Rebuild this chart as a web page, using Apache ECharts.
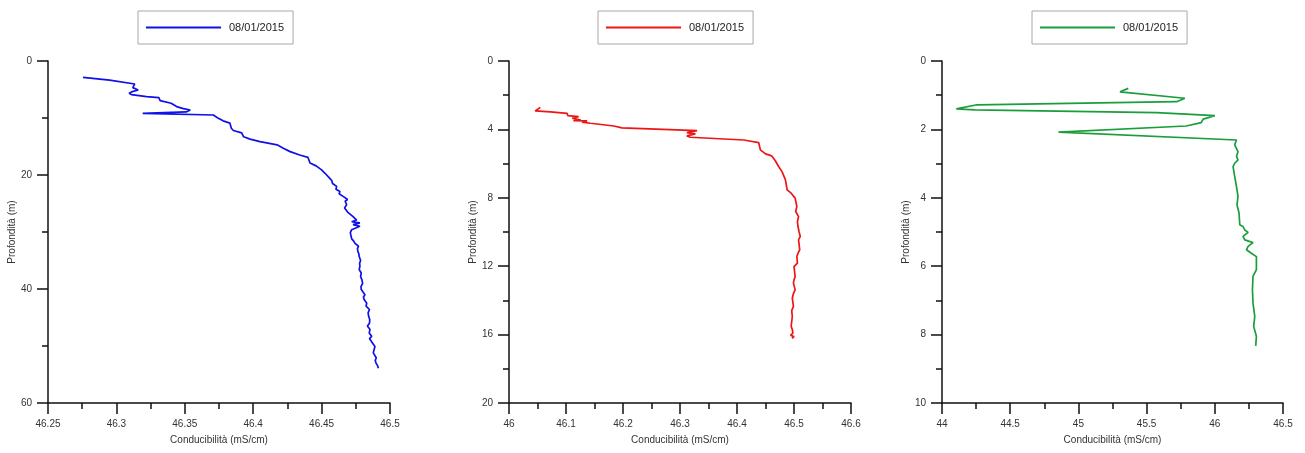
<!DOCTYPE html>
<html>
<head>
<meta charset="utf-8">
<script src="https://cdn.jsdelivr.net/npm/echarts@6/dist/echarts.min.js"></script>
<style>
html,body{margin:0;padding:0;background:#fff;}
#chart{width:1305px;height:453px;}
</style>
</head>
<body>
<div id="chart"></div>
<script>
// Panel 1 (blue)
var cond1 = [46.2756,46.2950,46.3134,46.3146,46.3120,46.3159,46.3117,46.3093,46.3110,46.3220,46.3310,46.3320,46.3400,46.3440,46.3490,46.3540,46.3510,46.3192,46.3709,46.3745,46.3780,46.3830,46.3840,46.3855,46.3916,46.3930,46.3977,46.4050,46.4175,46.4220,46.4270,46.4340,46.4400,46.4415,46.4460,46.4500,46.4525,46.4560,46.4575,46.4585,46.4580,46.4610,46.4605,46.4634,46.4628,46.4660,46.4690,46.4672,46.4670,46.4683,46.4688,46.4668,46.4670,46.4690,46.4695,46.4730,46.4756,46.4720,46.4780,46.4730,46.4780,46.4720,46.4710,46.4722,46.4716,46.4720,46.4735,46.4744,46.4770,46.4762,46.4765,46.4772,46.4775,46.4785,46.4778,46.4780,46.4772,46.4775,46.4790,46.4783,46.4785,46.4795,46.4800,46.4788,46.4790,46.4817,46.4806,46.4810,46.4830,46.4825,46.4850,46.4840,46.4844,46.4852,46.4850,46.4835,46.4854,46.4848,46.4866,46.4850,46.4873,46.4868,46.4890,46.4883,46.4878,46.4900,46.4892,46.4898,46.4908,46.4915];
var depth1 = [2.86,3.35,4.03,4.38,4.67,5.08,5.37,5.67,5.90,6.25,6.43,6.95,7.42,8.00,8.35,8.59,8.94,9.18,9.47,10.06,10.50,10.90,11.80,12.20,12.60,13.30,13.70,14.15,14.70,15.30,15.90,16.50,16.90,17.90,18.40,19.10,19.70,20.60,21.00,21.10,21.50,22.00,22.50,22.90,23.30,23.80,24.30,24.60,24.90,25.20,25.50,25.80,26.10,26.50,26.80,27.30,27.90,28.20,28.40,28.70,29.00,29.60,30.10,30.40,30.80,31.20,31.60,32.00,32.50,32.90,33.40,33.80,34.30,35.00,35.50,36.00,36.30,36.60,37.20,37.50,37.80,38.40,39.00,39.60,40.10,41.00,41.40,41.80,42.50,43.00,43.60,44.20,44.80,45.40,46.00,46.50,47.10,47.70,48.30,48.70,49.50,49.80,50.10,50.70,51.20,52.10,52.50,53.00,53.40,53.90];

// Panel 2 (red)
var cond2 = [46.055,46.046,46.0725,46.102,46.103,46.122,46.111,46.126,46.113,46.137,46.128,46.143,46.184,46.198,46.198,46.330,46.312,46.327,46.312,46.318,46.412,46.438,46.441,46.450,46.461,46.467,46.473,46.479,46.485,46.488,46.495,46.502,46.505,46.503,46.508,46.506,46.507,46.509,46.511,46.508,46.510,46.507,46.505,46.506,46.500,46.502,46.500,46.499,46.502,46.499,46.497,46.499,46.496,46.497,46.495,46.497,46.498,46.494,46.500,46.4965];
var depth2 = [2.71,2.92,2.98,3.06,3.19,3.25,3.35,3.45,3.49,3.50,3.58,3.64,3.80,3.91,3.95,4.07,4.19,4.26,4.38,4.46,4.62,4.77,5.20,5.43,5.55,5.82,6.17,6.47,6.95,7.54,7.73,8.02,8.51,8.80,9.10,9.40,9.68,10.00,10.26,10.46,11.04,11.25,11.43,11.82,12.02,12.60,12.80,12.99,13.38,13.60,13.87,14.35,14.60,14.94,15.52,15.70,15.91,16.04,16.12,16.22];

// Panel 3 (green)
var cond3 = [45.366,45.305,45.780,45.720,44.256,44.105,44.240,45.573,46.000,45.915,45.900,45.790,44.854,46.159,46.146,46.170,46.159,46.170,46.146,46.134,46.146,46.159,46.170,46.163,46.178,46.183,46.207,46.220,46.244,46.207,46.220,46.280,46.244,46.232,46.268,46.305,46.305,46.280,46.276,46.280,46.293,46.285,46.305,46.300];
var depth3 = [0.80,0.90,1.09,1.19,1.28,1.40,1.43,1.51,1.60,1.70,1.80,1.90,2.08,2.31,2.45,2.65,2.79,2.89,2.99,3.09,3.38,3.67,3.96,4.21,4.45,4.79,4.84,4.94,5.01,5.13,5.23,5.31,5.42,5.52,5.62,5.72,6.10,6.30,6.69,7.08,7.47,7.76,8.05,8.33];

var seriesName = '08/01/2015';
var xName = 'Conducibilità (mS/cm)';
var yName = 'Profondità (m)';

var xRanges = [[46.25, 46.5, 0.05], [46, 46.6, 0.1], [44, 46.5, 0.5]];
var yRanges = [[0, 60, 20], [0, 20, 4], [0, 10, 2]];
var colors = ['#1010e8', '#ee1515', '#1a9e3c'];
var gridLefts = [48, 509, 942];
var gridWidths = [342, 342, 341];
var legendLefts = [138, 598, 1032];

function pairs(xs, ys) {
  var out = [];
  for (var i = 0; i < xs.length; i++) out.push([xs[i], ys[i]]);
  return out;
}
var datasets = [pairs(cond1, depth1), pairs(cond2, depth2), pairs(cond3, depth3)];

var FONT = 'Liberation Sans, Arial, sans-serif';
var grids = [], xAxes = [], yAxes = [], series = [], legends = [];
for (var i = 0; i < 3; i++) {
  grids.push({left: gridLefts[i], top: 61, width: gridWidths[i], height: 342, containLabel: false});
  var axisCommon = {
    axisLine: {show: true, onZero: false, lineStyle: {color: '#111', width: 1.5}},
    axisTick: {show: true, inside: false, length: 11, lineStyle: {color: '#111', width: 1.5}},
    minorTick: {show: true, splitNumber: 2, length: 6, lineStyle: {color: '#111', width: 1.5}},
    splitLine: {show: false},
    minorSplitLine: {show: false}
  };
  xAxes.push(Object.assign({
    type: 'value', gridIndex: i,
    min: xRanges[i][0], max: xRanges[i][1], interval: xRanges[i][2],
    name: xName, nameLocation: 'middle', nameGap: 32,
    nameTextStyle: {fontFamily: FONT, fontSize: 10, color: '#333'},
    axisLabel: {fontFamily: FONT, fontSize: 10, color: '#333', margin: 16, showMinLabel: true, showMaxLabel: true}
  }, axisCommon));
  yAxes.push(Object.assign({
    type: 'value', gridIndex: i, inverse: true,
    min: yRanges[i][0], max: yRanges[i][1], interval: yRanges[i][2],
    name: yName, nameLocation: 'middle', nameGap: 31, nameRotate: 90,
    nameTextStyle: {fontFamily: FONT, fontSize: 10, color: '#333'},
    axisLabel: {fontFamily: FONT, fontSize: 10, color: '#333', margin: 16, showMinLabel: true, showMaxLabel: true}
  }, axisCommon));
  series.push({
    name: seriesName + (i === 0 ? '' : (i === 1 ? ' ' : '  ')),
    type: 'line', xAxisIndex: i, yAxisIndex: i,
    data: datasets[i], showSymbol: false, symbol: 'none',
    lineStyle: {color: colors[i], width: 1.7},
    itemStyle: {color: colors[i]},
    animation: false
  });
  legends.push({
    left: legendLefts[i], top: 11, orient: 'horizontal',
    data: [{name: series[i].name, icon: 'rect', itemStyle: {color: colors[i]}}],
    itemWidth: 75, itemHeight: 2,
    padding: [11, 9, 11, 8],
    borderColor: '#a8a8a8', borderWidth: 1,
    textStyle: {fontFamily: FONT, fontSize: 11, color: '#222', padding: [0, 0, 0, 3]},
    formatter: function (n) { return n.trim(); },
    selectedMode: false
  });
}

var chart = echarts.init(document.getElementById('chart'), null, {renderer: 'canvas'});
chart.setOption({
  backgroundColor: '#fff',
  animation: false,
  legend: legends,
  grid: grids,
  xAxis: xAxes,
  yAxis: yAxes,
  series: series
});
</script>
</body>
</html>
